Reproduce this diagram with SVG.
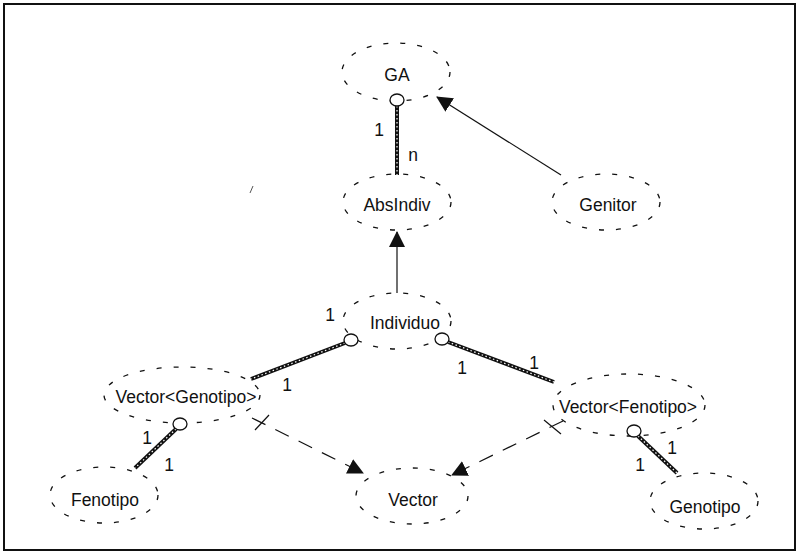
<svg xmlns="http://www.w3.org/2000/svg" width="799" height="552" viewBox="0 0 799 552">
  <style>
    .cloud { fill: none; stroke: #111; stroke-width: 1.3; stroke-dasharray: 5 12; }
    .lbl { font-family: "Liberation Sans", Arial, sans-serif; font-size: 17.5px; fill: #111; text-anchor: middle; }
    .num { font-family: "Liberation Sans", Arial, sans-serif; font-size: 17.5px; fill: #111; text-anchor: middle; }
    .rope { stroke: #111; stroke-width: 4; fill: none; }
    .rope-in { stroke: #fff; stroke-width: 1.2; stroke-dasharray: 1.5 2.5; fill: none; }
    .knob { fill: #fff; stroke: #111; stroke-width: 1.3; }
    .inh { stroke: #111; stroke-width: 1.2; fill: none; marker-end: url(#tri); }
    .dep { stroke: #111; stroke-width: 1.2; fill: none; stroke-dasharray: 15 11; marker-end: url(#tri); }
    .tick { stroke: #111; stroke-width: 1.2; }
  </style>
  <defs>
    <marker id="tri" markerUnits="userSpaceOnUse" markerWidth="16" markerHeight="16" viewBox="0 0 16 16" refX="15" refY="8" orient="auto">
      <path d="M0,0 L16,8 L0,16 z" fill="#111"/>
    </marker>
  </defs>

  <rect x="0" y="0" width="799" height="552" fill="#fff"/>
  <rect x="4" y="4" width="791" height="546" fill="none" stroke="#111" stroke-width="2"/>
  <!-- small stray stroke -->
  <line x1="250" y1="193" x2="253" y2="186" stroke="#555" stroke-width="1"/>

  <g id="GA">
    <ellipse class="cloud" cx="396" cy="72" rx="54" ry="29"/>
    <text class="lbl" x="397" y="81">GA</text>
  </g>
  <g id="AbsIndiv">
    <ellipse class="cloud" cx="397" cy="202" rx="54" ry="28"/>
    <text class="lbl" x="397" y="211">AbsIndiv</text>
  </g>
  <g id="Genitor">
    <ellipse class="cloud" cx="606" cy="202" rx="54" ry="28"/>
    <text class="lbl" x="608" y="211">Genitor</text>
  </g>
  <g id="Individuo">
    <ellipse class="cloud" cx="397" cy="321" rx="54" ry="28"/>
    <text class="lbl" x="405" y="329">Individuo</text>
  </g>
  <g id="VectorGenotipo">
    <ellipse class="cloud" cx="182" cy="395" rx="78" ry="28"/>
    <text class="lbl" x="186" y="403">Vector&lt;Genotipo&gt;</text>
  </g>
  <g id="VectorFenotipo">
    <ellipse class="cloud" cx="629" cy="405" rx="76" ry="31"/>
    <text class="lbl" x="628" y="413">Vector&lt;Fenotipo&gt;</text>
  </g>
  <g id="Fenotipo">
    <ellipse class="cloud" cx="104" cy="495" rx="54" ry="28"/>
    <text class="lbl" x="105" y="506">Fenotipo</text>
  </g>
  <g id="Vector">
    <ellipse class="cloud" cx="412" cy="496" rx="56" ry="28"/>
    <text class="lbl" x="413" y="506">Vector</text>
  </g>
  <g id="Genotipo">
    <ellipse class="cloud" cx="704" cy="501" rx="54" ry="28"/>
    <text class="lbl" x="705" y="513">Genotipo</text>
  </g>

  <g id="connectors">
    <!-- GA 1..n AbsIndiv -->
    <line class="rope" x1="397" y1="106" x2="397" y2="175"/>
    <line class="rope-in" x1="397" y1="106" x2="397" y2="175"/>
    <!-- Individuo - Vector<Genotipo> -->
    <line class="rope" x1="345" y1="343" x2="251" y2="379"/>
    <line class="rope-in" x1="345" y1="343" x2="251" y2="379"/>
    <!-- Individuo - Vector<Fenotipo> -->
    <line class="rope" x1="448" y1="342" x2="554" y2="382"/>
    <line class="rope-in" x1="448" y1="342" x2="554" y2="382"/>
    <!-- Vector<Genotipo> - Fenotipo -->
    <line class="rope" x1="176" y1="429" x2="135" y2="468"/>
    <line class="rope-in" x1="176" y1="429" x2="135" y2="468"/>
    <!-- Vector<Fenotipo> - Genotipo -->
    <line class="rope" x1="638" y1="436" x2="677" y2="473"/>
    <line class="rope-in" x1="638" y1="436" x2="677" y2="473"/>

    <!-- aggregation knobs -->
    <ellipse class="knob" cx="397" cy="100" rx="7" ry="6"/>
    <ellipse class="knob" cx="351" cy="340" rx="7" ry="6"/>
    <ellipse class="knob" cx="442" cy="339" rx="7" ry="6"/>
    <ellipse class="knob" cx="180" cy="424" rx="7" ry="6"/>
    <ellipse class="knob" cx="634" cy="431" rx="7" ry="6"/>

    <!-- inheritance -->
    <line class="inh" x1="561" y1="175" x2="437" y2="97"/>
    <line class="inh" x1="397" y1="293" x2="397" y2="232"/>

    <!-- instantiation of Vector -->
    <line class="dep" x1="252" y1="418" x2="363" y2="473"/>
    <line class="tick" x1="255" y1="430" x2="269" y2="415"/>
    <line class="dep" x1="563" y1="421" x2="452" y2="475"/>
    <line class="tick" x1="544" y1="420" x2="561" y2="434"/>

    <!-- multiplicities -->
    <text class="num" x="379" y="136">1</text>
    <text class="num" x="413" y="161">n</text>
    <text class="num" x="330" y="321">1</text>
    <text class="num" x="287" y="391">1</text>
    <text class="num" x="462" y="374">1</text>
    <text class="num" x="534" y="369">1</text>
    <text class="num" x="147" y="444">1</text>
    <text class="num" x="169" y="471">1</text>
    <text class="num" x="672" y="454">1</text>
    <text class="num" x="640" y="471">1</text>
  </g>
</svg>
